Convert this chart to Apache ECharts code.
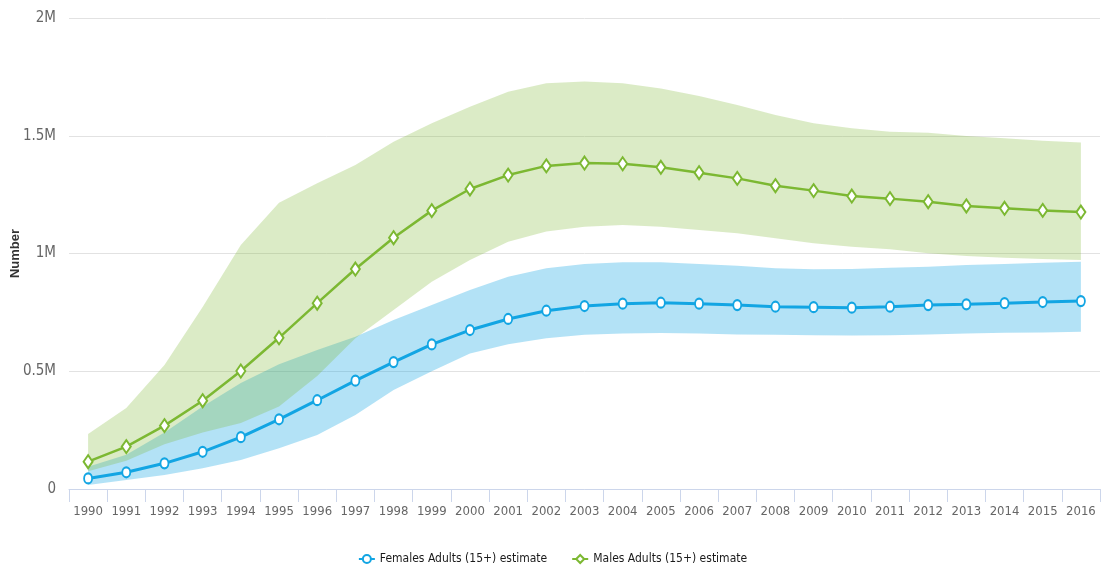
<!DOCTYPE html>
<html>
<head>
<meta charset="utf-8">
<script src="https://cdn.jsdelivr.net/npm/echarts@6/dist/echarts.min.js"></script>
<style>
html,body{margin:0;padding:0;background:#fff;}
#chart{width:1105px;height:574px;}
</style>
</head>
<body>
<div id="chart"></div>
<script>
var years = ['1990','1991','1992','1993','1994','1995','1996','1997','1998','1999','2000','2001','2002','2003','2004','2005','2006','2007','2008','2009','2010','2011','2012','2013','2014','2015','2016'];

var femaleEst = [45000,71000,109000,158000,220000,296000,377000,460000,539000,614000,675000,722000,757000,777000,787000,791000,787000,781000,774000,772000,770000,774000,781000,784000,789000,794000,798000];
var femaleLow = [17000,38000,59000,88000,123000,173000,229000,314000,420000,500000,575000,615000,640000,655000,660000,662000,660000,656000,655000,653000,652000,653000,656000,660000,663000,665000,668000];
var femaleHigh = [95000,145000,240000,350000,450000,530000,590000,647000,718000,781000,845000,901000,937000,955000,963000,963000,955000,948000,937000,933000,934000,940000,944000,951000,955000,961000,965000];

var maleEst = [116000,180000,269000,375000,501000,642000,789000,934000,1067000,1182000,1274000,1333000,1372000,1384000,1381000,1366000,1343000,1319000,1288000,1267000,1244000,1233000,1220000,1202000,1192000,1183000,1176000];
var maleLow = [75000,120000,190000,240000,280000,350000,480000,640000,760000,880000,972000,1050000,1093000,1114000,1121000,1114000,1100000,1086000,1065000,1043000,1029000,1018000,1001000,989000,982000,977000,972000];
var maleHigh = [234000,344000,527000,773000,1036000,1216000,1298000,1376000,1475000,1553000,1623000,1687000,1723000,1730000,1723000,1701000,1669000,1631000,1588000,1553000,1532000,1517000,1513000,1499000,1489000,1479000,1471000];

var yTicks = [0, 500000, 1000000, 1500000, 2000000];
var yTickLabels = ['0', '0.5M', '1M', '1.5M', '2M'];

var seriesNames = ['Females Adults (15+) estimate', 'Males Adults (15+) estimate'];
var yAxisTitle = 'Number';

var FONT = "'DejaVu Sans Condensed', 'Liberation Sans Narrow', sans-serif";
var BLUE = '#12a5e3';
var GREEN = '#7cb832';

function diff(hi, lo) { return hi.map(function (h, i) { return h - lo[i]; }); }

var chart = echarts.init(document.getElementById('chart'), null, {renderer: 'canvas'});
chart.setOption({
  animation: false,
  backgroundColor: '#ffffff',
  grid: {left: 69, right: 5, top: 18, bottom: 85, containLabel: false, outerBoundsMode: 'none'},
  legend: {
    data: seriesNames,
    bottom: 4,
    left: 'center',
    itemWidth: 16,
    itemHeight: 10,
    itemGap: 24,
    textStyle: {fontFamily: FONT, fontSize: 12, color: '#1a1a1a', fontWeight: 'normal'}
  },
  xAxis: {
    type: 'category',
    data: years,
    boundaryGap: true,
    axisLine: {lineStyle: {color: '#ccd6eb', width: 1}},
    axisTick: {show: true, length: 13, lineStyle: {color: '#ccd6eb'}},
    axisLabel: {fontFamily: FONT, fontSize: 13, color: '#666666', margin: 16, interval: 0}
  },
  yAxis: {
    type: 'value',
    min: 0,
    max: 2000000,
    interval: 500000,
    name: yAxisTitle,
    nameLocation: 'middle',
    nameGap: 47,
    nameMoveOverlap: false,
    nameTextStyle: {fontFamily: "'Liberation Sans', Arial, sans-serif", fontSize: 13, fontWeight: 'bold', color: '#333333'},
    axisLine: {show: false},
    axisTick: {show: false},
    splitLine: {lineStyle: {color: '#e2e2e2', width: 1}},
    axisLabel: {
      fontFamily: FONT, fontSize: 15, color: '#666666', margin: 13,
      formatter: function (v) { var i = yTicks.indexOf(v); return i >= 0 ? yTickLabels[i] : ''; }
    }
  },
  series: [
    {name: 'fLow', type: 'line', data: femaleLow, stack: 'fband', symbol: 'none', silent: true,
     lineStyle: {opacity: 0}, z: 1},
    {name: 'fBand', type: 'line', data: diff(femaleHigh, femaleLow), stack: 'fband', symbol: 'none', silent: true,
     lineStyle: {opacity: 0}, areaStyle: {color: 'rgba(18,165,227,0.32)', opacity: 1}, z: 1},
    {name: 'mLow', type: 'line', data: maleLow, stack: 'mband', symbol: 'none', silent: true,
     lineStyle: {opacity: 0}, z: 2},
    {name: 'mBand', type: 'line', data: diff(maleHigh, maleLow), stack: 'mband', symbol: 'none', silent: true,
     lineStyle: {opacity: 0}, areaStyle: {color: 'rgba(124,184,50,0.28)', opacity: 1}, z: 2},
    {name: seriesNames[0], type: 'line', data: femaleEst, color: BLUE,
     symbol: 'emptyCircle', symbolSize: [8, 10],
     lineStyle: {color: BLUE, width: 3},
     itemStyle: {color: BLUE, borderColor: BLUE, borderWidth: 2},
     z: 5},
    {name: seriesNames[1], type: 'line', data: maleEst, color: GREEN,
     symbol: 'emptyDiamond', symbolSize: [9, 13],
     lineStyle: {color: GREEN, width: 2.5},
     itemStyle: {color: GREEN, borderColor: GREEN, borderWidth: 2},
     z: 5}
  ]
});
</script>
</body>
</html>
